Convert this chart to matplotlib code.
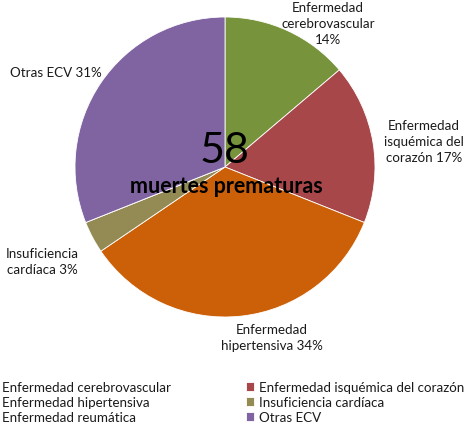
import matplotlib
matplotlib.use("Agg")
import matplotlib.pyplot as plt

plt.rcParams["font.family"] = ["Lato", "DejaVu Sans"]

categories = ["Enfermedad cerebrovascular", "Enfermedad isquémica del corazón",
              "Enfermedad hipertensiva", "Insuficiencia cardíaca",
              "Enfermedad reumática", "Otras ECV"]
deaths = [8, 10, 20, 2, 0, 18]
colors = ["#77933C", "#A8474A", "#CC6008", "#948A54", "#4F81BD", "#8064A2"]

# label text per slice (line breaks as in the original)
label_names = ["Enfermedad\ncerebrovascular\n", "Enfermedad\nisquémica del\ncorazón ",
               "Enfermedad\nhipertensiva ", "Insuficiencia\ncardíaca ", None, "Otras ECV "]
label_pos = [(328, 24), (424, 142), (272, 338), (42, 262), None, (56, 73)]

W, H = 475, 427
fig = plt.figure(figsize=(W / 100, H / 100), dpi=100)
ax = fig.add_axes([0, 0, 1, 1])

cx, cy, r = 225, H - 168, 150
wedges, _ = ax.pie(deaths, colors=colors, startangle=90, counterclock=False,
                   center=(cx, cy), radius=r,
                   wedgeprops=dict(edgecolor="white", linewidth=0.6))
ax.set_xlim(0, W)
ax.set_ylim(0, H)
ax.axis("off")

total = sum(deaths)
for name, pos, v in zip(label_names, label_pos, deaths):
    if name is None:
        continue
    ax.text(pos[0], H - pos[1], f"{name}{v / total:.0%}", ha="center", va="center",
            fontsize=9.6, color="#1a1a1a", linespacing=1.35)

ax.text(cx, H - 151, str(total), ha="center", va="center", fontsize=31, color="black")
ax.text(cx + 1, H - 187, "muertes prematuras", ha="center", va="center",
        fontsize=15.5, fontweight="bold", color="black")

# legend is laid out row by row in the original, so reorder for column filling
order = [0, 2, 4, 1, 3, 5]
leg = fig.legend([wedges[i] for i in order], [categories[i] for i in order],
                 ncol=2, loc="lower left", bbox_to_anchor=(-23 / W, -9 / H),
                 frameon=False, fontsize=9.6, handlelength=0.6, handleheight=0.6,
                 handletextpad=0.4, columnspacing=5.6, labelspacing=0.22)
for t in leg.get_texts():
    t.set_color("#1a1a1a")

fig.savefig("out.png", dpi=100)
